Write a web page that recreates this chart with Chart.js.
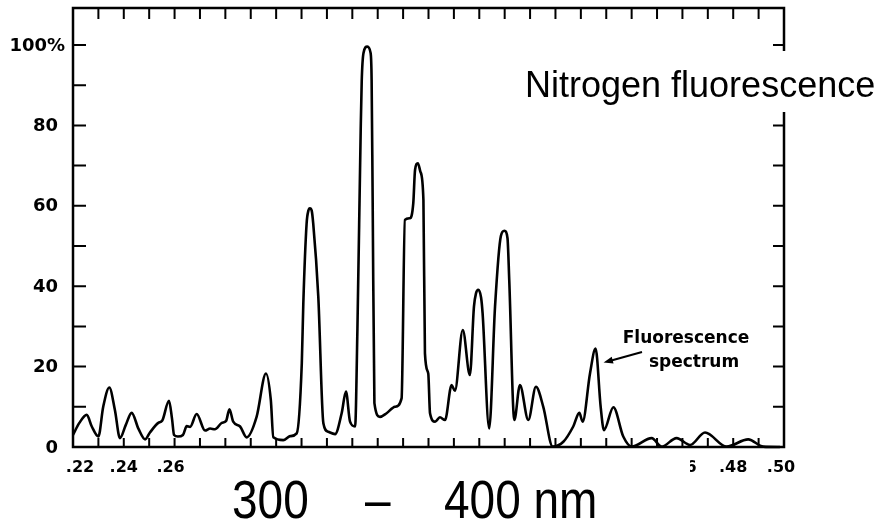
<!DOCTYPE html>
<html>
<head>
<meta charset="utf-8">
<script src="https://cdn.jsdelivr.net/npm/chart.js@4.4.1/dist/chart.umd.min.js"></script>
<style>
html,body{margin:0;padding:0;background:#fff;}
canvas{display:block;}
</style>
</head>
<body>
<canvas id="c" width="888" height="522"></canvas>
<script>
// Wavelength in micrometres
const wavelength = [0.2200,0.2225,0.2254,0.2274,0.2300,0.2319,0.2343,0.2365,0.2385,0.2408,0.2431,0.2458,0.2484,0.2503,0.2536,0.2551,0.2578,0.2590,0.2598,0.2613,0.2633,0.2648,0.2661,0.2687,0.2720,0.2740,0.2759,0.2786,0.2803,0.2816,0.2831,0.2858,0.2884,0.2923,0.2960,0.2979,0.2989,0.3028,0.3055,0.3081,0.3101,0.3107,0.3120,0.3127,0.3133,0.3140,0.3146,0.3166,0.3186,0.3205,0.3232,0.3258,0.3275,0.3291,0.3311,0.3320,0.3333,0.3337,0.3344,0.3359,0.3372,0.3376,0.3380,0.3387,0.3409,0.3435,0.3468,0.3494,0.3507,0.3527,0.3540,0.3547,0.3558,0.3568,0.3580,0.3586,0.3599,0.3606,0.3626,0.3645,0.3665,0.3691,0.3704,0.3735,0.3763,0.3779,0.3787,0.3796,0.3807,0.3813,0.3839,0.3862,0.3885,0.3899,0.3911,0.3918,0.3938,0.3960,0.3993,0.4023,0.4052,0.4089,0.4131,0.4170,0.4194,0.4207,0.4236,0.4258,0.4278,0.4291,0.4328,0.4367,0.4400,0.4479,0.4518,0.4577,0.4630,0.4689,0.4774,0.4859,0.4918,0.4984];
// Relative intensity (%)
const intensity = [3.0,6.0,8.0,5.1,2.6,10.0,14.8,9.2,2.2,5.5,8.5,4.5,1.9,3.6,6.0,6.5,11.5,7.0,3.0,2.6,3.0,5.2,5.0,8.2,4.1,4.6,4.4,6.0,6.5,9.4,6.3,5.1,2.4,7.5,18.3,11.7,2.4,1.7,2.7,3.4,20.8,35.7,55.6,58.8,59.4,58.8,55.6,37.4,5.9,3.8,3.2,8.4,13.8,6.3,5.1,29.1,78.9,91.0,98.0,99.6,98.0,91.3,62.3,10.9,7.5,8.4,10.0,12.1,56.5,56.9,60.6,68.9,70.6,68.5,61.4,23.3,18.3,8.4,6.3,7.4,6.7,15.4,14.0,29.1,17.9,34.9,38.2,39.1,37.2,33.3,4.6,34.9,52.5,53.8,52.0,41.5,6.7,15.4,6.7,15.0,10.0,0.1,1.3,5.1,8.5,6.3,18.3,24.5,10.0,4.2,9.9,2.6,0.1,2.2,0.1,2.2,0.5,3.6,0.1,1.9,0.1,0.0];

const xLabelValues = [0.22,0.24,0.26,0.46,0.48,0.50];
const xLabelTexts  = ['.22','.24','.26','.46','.48','.50'];
const yLabelValues = [0,20,40,60,80,100];
const yLabelTexts  = ['0','20','40','60','80','100%'];
const titleText = 'Nitrogen fluorescence';
const rangeParts = ['300','\u2013','400 nm'];
const noteLines = ['Fluorescence','spectrum'];

const points = wavelength.map((w,i)=>({x:w,y:intensity[i]}));

const framePlugin = {
  id:'frame',
  beforeDatasetsDraw(chart){
    const ctx = chart.ctx, a = chart.chartArea, xs = chart.scales.x, ys = chart.scales.y;
    ctx.save();
    ctx.strokeStyle = '#000';
    ctx.lineWidth = 2.5;
    ctx.strokeRect(a.left, a.top, a.right-a.left, a.bottom-a.top);
    ctx.lineWidth = 2;
    for (let k=23;k<=49;k++){
      const px = xs.getPixelForValue(k/100);
      ctx.beginPath();
      ctx.moveTo(px,a.top); ctx.lineTo(px,a.top+11);
      ctx.moveTo(px,a.bottom); ctx.lineTo(px,a.bottom-9);
      ctx.stroke();
    }
    for (let v=10; v<=100; v+=10){
      const py = ys.getPixelForValue(v);
      ctx.beginPath();
      ctx.moveTo(a.left,py); ctx.lineTo(a.left+13,py);
      ctx.moveTo(a.right,py); ctx.lineTo(a.right-11,py);
      ctx.stroke();
    }
    ctx.fillStyle = '#000';
    ctx.font = 'bold 18px "DejaVu Sans"';
    ctx.textBaseline = 'middle';
    yLabelValues.forEach((v,i)=>{
      const py = ys.getPixelForValue(v);
      const t = yLabelTexts[i];
      ctx.textAlign = 'right';
      ctx.fillText(t, t.endsWith('%') ? 65 : 58, py+1);
    });
    ctx.font = 'bold 16px "DejaVu Sans"';
    xLabelValues.forEach((v,i)=>{
      let px = xs.getPixelForValue(v);
      if (i===0) px += 7;
      if (v===0.26) px -= 4;
      if (v===0.50) px -= 3;
      ctx.textAlign = 'center';
      ctx.fillText(xLabelTexts[i], px, a.bottom+21);
    });
    ctx.restore();
  },
  afterDraw(chart){
    const ctx = chart.ctx, xs = chart.scales.x, ys = chart.scales.y;
    ctx.save();
    ctx.fillStyle = '#fff';
    ctx.fillRect(188, 457, 502, 65);
    ctx.fillRect(515, 51, 373, 61);
    ctx.fillStyle = '#000';
    ctx.font = '36px "Liberation Sans"';
    ctx.textAlign = 'left';
    ctx.textBaseline = 'alphabetic';
    ctx.fillText(titleText, 525, 97);
    ctx.save();
    ctx.translate(0, 518);
    ctx.scale(1, 1.15);
    ctx.font = '46px "Liberation Sans"';
    ctx.fillText(rangeParts[0], 232, 0);
    ctx.fillText(rangeParts[1], 365, 0);
    ctx.fillText(rangeParts[2], 444, 0);
    ctx.restore();
    ctx.font = 'bold 17px "DejaVu Sans"';
    ctx.textAlign = 'center';
    ctx.fillText(noteLines[0], 686, 343);
    ctx.fillText(noteLines[1], 694, 367);
    const tipX = xs.getPixelForValue(0.4258) + 8;
    const tipY = ys.getPixelForValue(21);
    const tailX = 642, tailY = 352;
    ctx.strokeStyle = '#000';
    ctx.lineWidth = 2;
    ctx.beginPath(); ctx.moveTo(tailX, tailY); ctx.lineTo(tipX+6, tipY-1.5); ctx.stroke();
    const ang = Math.atan2(tailY-tipY, tailX-tipX);
    ctx.beginPath();
    ctx.moveTo(tipX, tipY);
    ctx.lineTo(tipX + 10*Math.cos(ang-0.35), tipY + 10*Math.sin(ang-0.35));
    ctx.lineTo(tipX + 10*Math.cos(ang+0.35), tipY + 10*Math.sin(ang+0.35));
    ctx.closePath(); ctx.fill();
    ctx.restore();
  }
};

new Chart(document.getElementById('c'), {
  type:'line',
  data:{datasets:[{
    data: points,
    borderColor:'#000',
    borderWidth:2.6,
    pointRadius:0,
    fill:false,
    cubicInterpolationMode:'monotone',
    clip:false
  }]},
  options:{
    responsive:false,
    devicePixelRatio:1,
    animation:false,
    layout:{padding:{left:73,right:104,top:8,bottom:75}},
    plugins:{legend:{display:false},tooltip:{enabled:false}},
    scales:{
      x:{type:'linear',min:0.22,max:0.50,display:false},
      y:{min:0,max:109.2,display:false}
    }
  },
  plugins:[framePlugin]
});
</script>
</body>
</html>
